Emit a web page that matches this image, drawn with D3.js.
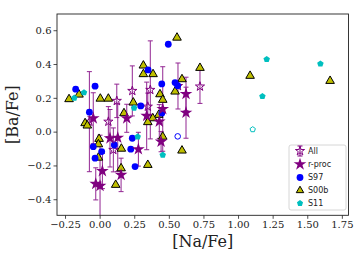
<!DOCTYPE html>
<html><head><meta charset="utf-8">
<script src="https://cdn.jsdelivr.net/npm/d3@7"></script>
<style>body{margin:0;background:#fff}</style></head>
<body>
<svg id="c" width="358" height="257"></svg>
<script>
// ---- data ----
const xTicks = [-0.25, 0, 0.25, 0.5, 0.75, 1.0, 1.25, 1.5, 1.75];
const yTicks = [-0.4, -0.2, 0.0, 0.2, 0.4, 0.6];

// "All" (open stars with error bars): [Na/Fe], [Ba/Fe], err
const allX   = [0.124, 0.236, 0.063, 0.348, 0.725, -0.074, 0.366, 0.566, 0.099];
const allY   = [0.182, 0.241, 0.059, 0.148, 0.267, 0.059, 0.247, 0.270, -0.108];
const allErr = [0.099, 0.148, 0.089, 0.08, 0.10, 0.296, 0.29, 0.136, 0.13];

// r-process (filled stars with error bars)
const rX   = [-0.046, 0.196, 0.075, 0.131, 0.020, -0.028, 0.003, 0.155, 0.280, 0.340, 0.444, 0.456, 0.431, 0.624, 0.624];
const rY   = [0.079, 0.079, -0.039, -0.036, -0.233, -0.309, -0.321, -0.256, -0.104, 0.093, -0.059, 0.134, 0.060, 0.223, 0.112];
const rErr = [0.151, 0.083, 0.17, 0.20, 0.104, 0.095, 0.30, 0.099, 0.10, 0.20, 0.06, 0.25, 0.10, 0.099, 0.151];

// S97 (blue circles)
const s97X = [-0.173, -0.033, -0.074, -0.046, 0.015, -0.033, 0.106, 0.236, 0.225, 0.256, 0.297, 0.350, 0.449, 0.496, 0.545, 0.564, 0.449];
const s97Y = [0.251, 0.269, 0.115, -0.089, -0.118, -0.157, -0.079, -0.039, -0.104, -0.207, 0.152, 0.365, 0.282, 0.517, 0.290, 0.272, 0.109];
const s97OpenX = [0.564];
const s97OpenY = [-0.028];

// S00b (olive triangles)
const s00X = [-0.221, -0.149, 0.005, 0.063, -0.105, -0.089, -0.004, -0.009, -0.009, 0.176, 0.157, 0.155, 0.116, 0.243, 0.316, 0.316, 0.386, 0.436, 0.456, 0.427, 0.384, 0.348, 0.348, 0.456, 0.559, 0.545, 0.595, 0.595, 0.725, 1.087, 1.665];
const s00Y = [0.192, 0.219, 0.195, 0.195, 0.050, 0.036, -0.043, -0.075, -0.154, 0.109, -0.101, -0.217, -0.315, 0.172, 0.391, 0.340, 0.340, 0.221, 0.188, 0.099, 0.079, 0.056, -0.197, -0.030, 0.556, 0.237, 0.310, -0.112, 0.377, 0.330, 0.300];

// S11 (cyan pentagons)
const s11X = [-0.183, -0.113, 0.249, 0.275, 0.456, 1.207, 1.595, 1.176];
const s11Y = [0.199, 0.231, 0.140, -0.030, -0.138, 0.428, 0.401, 0.209];
const s11OpenX = [1.106];
const s11OpenY = [0.013];

const legendLabels = ["All", "r-proc", "S97", "S00b", "S11"];

// ---- drawing ----
const svg = d3.select("#c");
const L = 57, R = 348.5, T = 14, B = 215.3;
const x = d3.scaleLinear().domain([-0.308, 1.798]).range([L, R]);
const y = d3.scaleLinear().domain([-0.495, 0.696]).range([B, T]);

const purple = "#800080", blue = "#0000ff", olive = "#bfbf00", cyan = "#00bfbf";
const serif = "DejaVu Serif, serif", sans = "DejaVu Sans, sans-serif";

svg.append("clipPath").attr("id", "clip").append("rect")
  .attr("x", L).attr("y", T).attr("width", R - L).attr("height", B - T);

const pentagon = {
  draw(ctx, r) {
    for (let i = 0; i < 5; i++) {
      const a = -Math.PI / 2 + i * 2 * Math.PI / 5;
      const px = r * Math.cos(a), py = r * Math.sin(a);
      if (i === 0) ctx.moveTo(px, py); else ctx.lineTo(px, py);
    }
    ctx.closePath();
  }
};

const g = svg.append("g").attr("clip-path", "url(#clip)");

function errBars(xs, ys, es) {
  const eg = g.append("g").attr("stroke", purple).attr("stroke-width", 1).attr("opacity", 0.85);
  xs.forEach((xv, i) => {
    const cx = x(xv), y1 = y(ys[i] + es[i]), y2 = y(ys[i] - es[i]);
    eg.append("line").attr("x1", cx).attr("x2", cx).attr("y1", y1).attr("y2", y2);
    eg.append("line").attr("x1", cx - 2.5).attr("x2", cx + 2.5).attr("y1", y1).attr("y2", y1);
    eg.append("line").attr("x1", cx - 2.5).attr("x2", cx + 2.5).attr("y1", y2).attr("y2", y2);
  });
}

// error bars
errBars(allX, allY, allErr);
errBars(rX, rY, rErr);

// open stars (All)
g.append("g").selectAll("path").data(allX).join("path")
  .attr("transform", (d, i) => `translate(${x(d)},${y(allY[i])})`)
  .attr("d", d3.symbol(d3.symbolStar, 26))
  .attr("fill", "none").attr("stroke", purple).attr("stroke-width", 1);

// S00b triangles
g.append("g").selectAll("path").data(s00X).join("path")
  .attr("transform", (d, i) => `translate(${x(d)},${y(s00Y[i])})`)
  .attr("d", d3.symbol(d3.symbolTriangle, 32))
  .attr("fill", olive).attr("stroke", "#000").attr("stroke-width", 1);

// S97 circles
g.append("g").selectAll("circle").data(s97X).join("circle")
  .attr("cx", d => x(d)).attr("cy", (d, i) => y(s97Y[i])).attr("r", 3.4)
  .attr("fill", blue);
g.append("g").selectAll("circle").data(s97OpenX).join("circle")
  .attr("cx", d => x(d)).attr("cy", (d, i) => y(s97OpenY[i])).attr("r", 2.8)
  .attr("fill", "none").attr("stroke", blue).attr("stroke-width", 1);

// S11 pentagons
g.append("g").selectAll("path").data(s11X).join("path")
  .attr("transform", (d, i) => `translate(${x(d)},${y(s11Y[i])})`)
  .attr("d", d3.symbol(pentagon, 3.4))
  .attr("fill", cyan);
g.append("g").selectAll("path").data(s11OpenX).join("path")
  .attr("transform", (d, i) => `translate(${x(d)},${y(s11OpenY[i])})`)
  .attr("d", d3.symbol(pentagon, 2.8))
  .attr("fill", "none").attr("stroke", cyan).attr("stroke-width", 1);

// r-proc filled stars
g.append("g").selectAll("path").data(rX).join("path")
  .attr("transform", (d, i) => `translate(${x(d)},${y(rY[i])})`)
  .attr("d", d3.symbol(d3.symbolStar, 50))
  .attr("fill", purple);

// axes
const xa = svg.append("g").attr("transform", `translate(0,${B})`)
  .call(d3.axisBottom(x).tickValues(xTicks).tickFormat(d3.format(".2f")).tickSize(3.5).tickPadding(2));
const ya = svg.append("g").attr("transform", `translate(${L},0)`)
  .call(d3.axisLeft(y).tickValues(yTicks).tickFormat(d3.format(".1f")).tickSize(3.5).tickPadding(2));
[xa, ya].forEach(a => {
  a.select(".domain").remove();
  a.selectAll("text").attr("font-family", serif).attr("font-size", 10).attr("fill", "#222");
  a.selectAll("line").attr("stroke", "#222").attr("stroke-width", 0.8);
});

// frame
svg.append("rect").attr("x", L).attr("y", T).attr("width", R - L).attr("height", B - T)
  .attr("fill", "none").attr("stroke", "#222").attr("stroke-width", 0.9);

// axis labels
svg.append("text").attr("x", (L + R) / 2).attr("y", 247).attr("text-anchor", "middle")
  .attr("font-family", serif).attr("font-size", 16).attr("fill", "#222").text("[Na/Fe]");
svg.append("text").attr("transform", `translate(18,${(T + B) / 2}) rotate(-90)`)
  .attr("text-anchor", "middle").attr("font-family", serif).attr("font-size", 16).attr("fill", "#222").text("[Ba/Fe]");

// legend
const lg = svg.append("g");
lg.append("rect").attr("x", 289).attr("y", 145).attr("width", 57).attr("height", 65).attr("rx", 2)
  .attr("fill", "#fff").attr("fill-opacity", 0.8).attr("stroke", "#ccc").attr("stroke-width", 0.8);
const ly = [151, 164.3, 177.5, 190.5, 203.3];
const mx = 300;
// All: open star + error bar
lg.append("line").attr("x1", mx).attr("x2", mx).attr("y1", ly[0] - 5).attr("y2", ly[0] + 5).attr("stroke", purple);
lg.append("line").attr("x1", mx - 2.5).attr("x2", mx + 2.5).attr("y1", ly[0] - 5).attr("y2", ly[0] - 5).attr("stroke", purple);
lg.append("line").attr("x1", mx - 2.5).attr("x2", mx + 2.5).attr("y1", ly[0] + 5).attr("y2", ly[0] + 5).attr("stroke", purple);
lg.append("path").attr("transform", `translate(${mx},${ly[0]})`).attr("d", d3.symbol(d3.symbolStar, 26)())
  .attr("fill", "none").attr("stroke", purple);
lg.append("path").attr("transform", `translate(${mx},${ly[1]})`).attr("d", d3.symbol(d3.symbolStar, 50)()).attr("fill", purple);
lg.append("circle").attr("cx", mx).attr("cy", ly[2]).attr("r", 3.4).attr("fill", blue);
lg.append("path").attr("transform", `translate(${mx},${ly[3]})`).attr("d", d3.symbol(d3.symbolTriangle, 24)())
  .attr("fill", olive).attr("stroke", "#000");
lg.append("path").attr("transform", `translate(${mx},${ly[4]})`).attr("d", d3.symbol(pentagon, 3.2)()).attr("fill", cyan);
legendLabels.forEach((t, i) => {
  lg.append("text").attr("x", 308).attr("y", ly[i] + 2.8).attr("font-family", sans).attr("font-size", 8)
    .attr("fill", "#222").text(t);
});
</script>
</body></html>
